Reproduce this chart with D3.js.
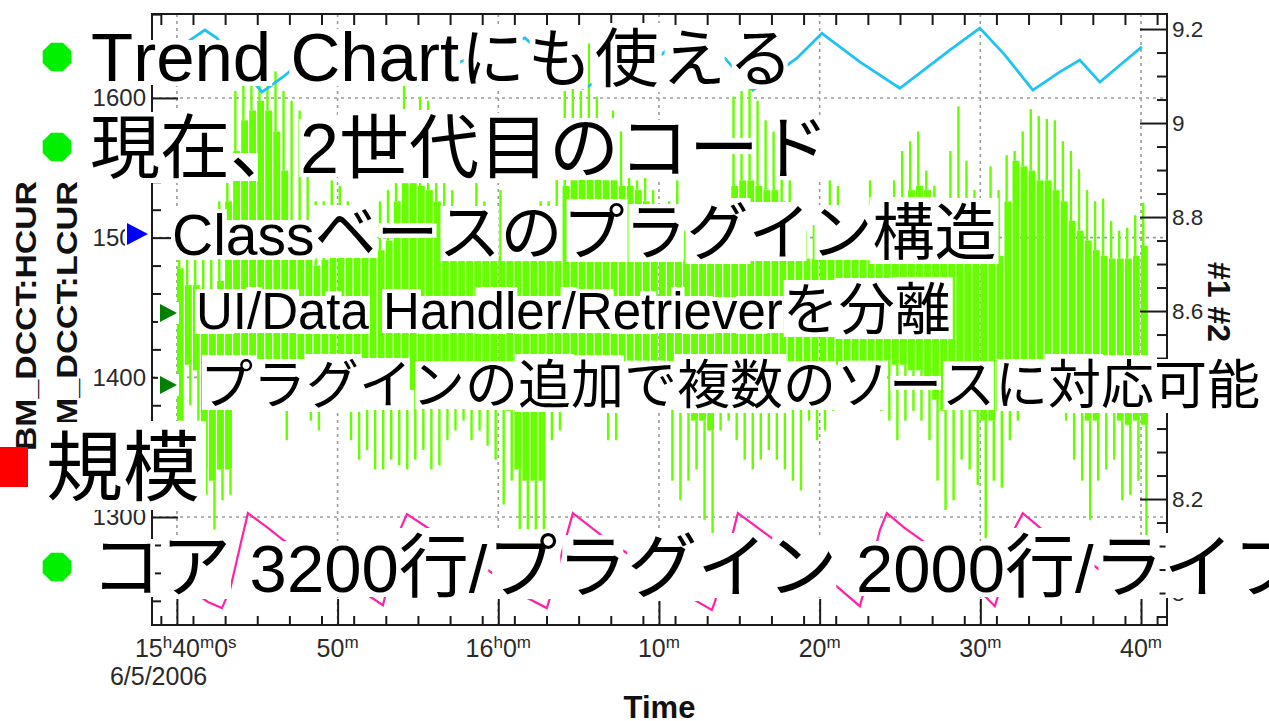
<!DOCTYPE html>
<html>
<head>
<meta charset="utf-8">
<script src="https://cdn.jsdelivr.net/npm/d3@7"></script>
<style>
  html, body { margin: 0; padding: 0; background: #fff; overflow: hidden; }
  svg { display: block; }
</style>
</head>
<body>
<svg id="slide" width="1269" height="721"></svg>
<script>
// ---------------- chart data ----------------
// BM_DCCT current (left axis): per 30 s sample, spike max, dense band top/bottom, spike min
const dcctMax = [1485,1485,1487,1491,1498,1526,1576,1605,1609,1619,
  1626,1639,1619,1605,1598,1591,1548,1526,1526,1541,
  1537,1526,1519,1505,1512,1526,1534,1584,1609,1584,
  1601,1598,1591,1541,1534,1505,1501,1541,1526,1505,
  1534,1509,1498,1498,1501,1526,1526,1562,1605,1609,
  1605,1639,1601,1584,1591,1576,1555,1541,1544,1534,
  1512,1526,1541,1505,1498,1498,1501,1505,1526,1601,
  1605,1609,1598,1584,1576,1548,1541,1512,1505,1509,
  1498,1541,1537,1505,1501,1512,1541,1526,1505,1541,
  1562,1569,1576,1548,1537,1526,1562,1594,1555,1534,
  1526,1551,1534,1559,1562,1576,1592,1587,1585,1584,
  1569,1562,1549,1534,1526,1528,1512,1505,1507,1516,
  1525];
const dcctBandTop = [1478,1466,1466,1462,1462,1469,1526,1562,1584,1591,
  1598,1591,1576,1548,1491,1484,1484,1480,1484,1487,
  1487,1491,1491,1487,1491,1491,1498,1526,1539,1539,
  1537,1534,1526,1491,1487,1485,1484,1485,1487,1485,
  1487,1487,1485,1484,1485,1487,1487,1498,1537,1541,
  1562,1584,1548,1541,1541,1537,1537,1534,1526,1519,
  1487,1485,1487,1485,1484,1484,1485,1487,1491,1537,
  1541,1541,1537,1534,1534,1526,1491,1487,1485,1485,
  1485,1487,1485,1484,1484,1485,1487,1485,1485,1498,
  1526,1534,1537,1534,1526,1498,1491,1498,1491,1487,
  1485,1491,1487,1526,1555,1551,1548,1541,1541,1534,
  1526,1512,1505,1498,1491,1487,1485,1485,1485,1487,
  1494];
const dcctBandBottom = [1369,1409,1405,1334,1326,1334,1334,1398,1405,1409,
  1412,1412,1412,1412,1409,1412,1412,1409,1405,1412,
  1412,1405,1398,1398,1391,1384,1384,1384,1387,1391,
  1394,1398,1394,1398,1401,1405,1405,1401,1398,1398,
  1384,1376,1334,1326,1326,1326,1384,1398,1405,1409,
  1409,1412,1412,1405,1405,1409,1412,1412,1412,1412,
  1412,1398,1384,1376,1369,1369,1362,1384,1398,1398,
  1394,1398,1398,1398,1401,1398,1391,1398,1405,1405,
  1401,1405,1409,1412,1412,1412,1412,1412,1412,1409,
  1409,1405,1405,1398,1384,1376,1384,1398,1384,1376,
  1369,1369,1376,1398,1405,1409,1409,1412,1412,1412,
  1405,1391,1376,1369,1369,1376,1384,1369,1366,1369,
  1366];
const dcctMin = [1366,1380,1369,1316,1291,1312,1316,1384,1391,1391,
  1398,1398,1401,1355,1384,1391,1369,1362,1376,1384,
  1387,1355,1341,1348,1334,1334,1341,1337,1334,1341,
  1348,1334,1337,1355,1362,1369,1355,1362,1351,1341,
  1309,1326,1289,1287,1291,1289,1355,1362,1384,1387,
  1387,1391,1384,1355,1355,1384,1387,1387,1391,1387,
  1384,1326,1312,1326,1334,1298,1287,1362,1369,1355,
  1341,1334,1341,1348,1341,1334,1326,1319,1369,1355,
  1362,1376,1384,1384,1387,1387,1384,1376,1369,1355,
  1369,1376,1369,1355,1326,1305,1312,1341,1334,1323,
  1285,1326,1321,1355,1369,1384,1384,1387,1384,1380,
  1369,1341,1326,1298,1326,1334,1341,1312,1316,1326,
  1286];
const SAMPLE_SECONDS = 30;

// Trace #1 (right axis): minutes after 15:40 and value
const ch1Min = [0,0.62,1.74,2.49,3.11,4.23,5.29,6.60,8.28,10.14,12.63,14.93,17.61,20.91,21.66,
  23.52,25.26,27.57,29.87,31.92,34.10,35.84,38.58,40.14,42.50,44.99,48.10,49.97,51.52,53.27,
  54.95,56.19,57.44,58.68,60.05];
const ch1Val = [9.145,9.172,9.198,9.181,9.151,9.109,9.066,9.098,9.145,9.187,9.130,9.081,9.130,9.172,9.181,
  9.123,9.074,9.108,9.138,9.194,9.138,9.070,9.138,9.191,9.130,9.074,9.155,9.202,9.145,9.070,
  9.109,9.134,9.087,9.123,9.162];

// Trace #2 (right axis)
const ch2Min = [0,1.93,2.80,3.30,3.92,4.42,5.60,6.60,9.52,12.82,13.38,13.88,14.31,15.56,17.92,
  19.35,21.84,23.02,23.21,23.83,24.64,26.94,28.19,32.23,33.29,33.48,34.60,34.91,37.34,40.01,
  42.50,43.12,43.75,44.18,45.30,48.10,50.90,51.52,52.15,52.64,53.89,56.01,57.44,60.05];
const ch2Val = [8.028,7.981,7.968,8.006,8.098,8.170,8.140,8.113,8.049,7.974,8.049,8.134,8.168,8.140,8.085,
  8.049,7.989,7.968,7.989,8.070,8.170,8.109,8.081,7.985,7.964,7.981,8.128,8.170,8.109,8.045,
  7.972,8.049,8.134,8.170,8.138,8.070,7.972,8.038,8.138,8.170,8.134,8.085,8.049,7.991];

// Axis ticks and their labels
const LEFT_TICKS = [1300, 1400, 1500, 1600];
const LEFT_TICK_LABELS = ["1300", "1400", "1500", "1600"];
const RIGHT_TICKS = [8.0, 8.2, 8.4, 8.6, 8.8, 9.0, 9.2];
const RIGHT_TICK_LABELS = ["8", "8.2", "8.4", "8.6", "8.8", "9", "9.2"];
const TIME_TICK_MIN = [0, 10, 20, 30, 40, 50, 60];
const TIME_TICK_LABELS = ["15h40m0s", "50m", "16h0m", "10m", "20m", "30m", "40m"];
const DATE_LABEL = "6/5/2006";
const X_TITLE = "Time";
const LEFT_TITLES = ["BM_DCCT:HCUR", "BM_DCCT:LCUR"];
const RIGHT_TITLE = "#1 #2";

// Slide bullet text
const SLIDE_ROWS = [
  { text: "Trend Chartにも使える", x: 91, base: 81, latin: 69, cjk: 64, cjkAdv: 67 },
  { text: "現在、2世代目のコード", x: 90, base: 173, latin: 70, cjk: 70 },
  { text: "Classベースのプラグイン構造", x: 172, base: 255, latin: 57, cjk: 62 },
  { text: "UI/Data Handler/Retrieverを分離", x: 196, base: 329, latin: 51, cjk: 56 },
  { text: "プラグインの追加で複数のソースに対応可能", x: 200, base: 404, latin: 53, cjk: 53 },
  { text: "規模", x: 46, base: 495, latin: 77, cjk: 77, pad: 8 },
  { text: "コア 3200行/プラグイン 2000行/ライブラリ", x: 91, base: 592, latin: 67, cjk: 70 }
];
const BULLETS = [
  { shape: "octagon", cx: 57, cy: 57, r: 15.5, color: "#00f000" },
  { shape: "octagon", cx: 57, cy: 147, r: 15.5, color: "#00f000" },
  { shape: "triangle", x: 127, y: 223, w: 21, h: 22, color: "#0000ff" },
  { shape: "triangle", x: 160, y: 304, w: 17, h: 18, color: "#008000" },
  { shape: "triangle", x: 160, y: 376, w: 17, h: 18, color: "#008000" },
  { shape: "square", x: -12, y: 447, w: 40, h: 40, color: "#ff0000" },
  { shape: "octagon", cx: 57, cy: 567, r: 15.5, color: "#00f000" }
];

// ---------------- layout & style ----------------
const PLOT = { left: 152, right: 1167, top: 14, bottom: 625 };
const GREEN = "#66ff00", CYAN = "#1ec3f3", MAGENTA = "#ff22a6";
const AXIS_FAMILY = '"Liberation Sans", Arial, Helvetica, sans-serif';
const LATIN_FAMILY = '"Liberation Sans", Arial, sans-serif';
const CJK_FAMILY = '"Noto Sans CJK JP", "Noto Sans CJK SC", sans-serif';

const svg = d3.select("#slide");
svg.append("rect").attr("width", 1269).attr("height", 721).attr("fill", "#fff");

const t0 = new Date(2006, 5, 5, 15, 40, 0);
const atMin = m => new Date(+t0 + m * 60000);
const x = d3.scaleTime()
  .domain([new Date(2006, 5, 5, 15, 38, 27), new Date(2006, 5, 5, 16, 41, 37)])
  .range([PLOT.left, PLOT.right]);
const yL = d3.scaleLinear().domain([1222.7, 1660.1]).range([PLOT.bottom, PLOT.top]);
const yR = d3.scaleLinear().domain([7.932, 9.232]).range([PLOT.bottom, PLOT.top]);

svg.append("clipPath").attr("id", "plotClip").append("rect")
  .attr("x", PLOT.left).attr("y", PLOT.top)
  .attr("width", PLOT.right - PLOT.left).attr("height", PLOT.bottom - PLOT.top);

// dashed grid at major ticks
const grid = svg.append("g").attr("stroke", "#9c9c9c").attr("stroke-width", 1.6)
  .attr("stroke-dasharray", "3,4");
grid.selectAll("line.v").data(TIME_TICK_MIN).join("line").attr("class", "v")
  .attr("x1", d => x(atMin(d))).attr("x2", d => x(atMin(d)))
  .attr("y1", PLOT.top).attr("y2", PLOT.bottom);
grid.selectAll("line.h").data(LEFT_TICKS).join("line").attr("class", "h")
  .attr("x1", PLOT.left).attr("x2", PLOT.right)
  .attr("y1", d => yL(d)).attr("y2", d => yL(d));

// data
const plot = svg.append("g").attr("clip-path", "url(#plotClip)");
const dcct = dcctMax.map((mx, i) => ({
  a: new Date(+t0 + i * SAMPLE_SECONDS * 1000),
  b: new Date(+t0 + (i + 1) * SAMPLE_SECONDS * 1000),
  mx, top: dcctBandTop[i], bot: dcctBandBottom[i], mn: dcctMin[i]
}));
const gG = plot.append("g").attr("fill", GREEN);
gG.selectAll("rect.band").data(dcct).join("rect").attr("class", "band")
  .attr("x", d => x(d.a)).attr("width", d => x(d.b) - x(d.a) - 1.2)
  .attr("y", d => yL(d.top)).attr("height", d => yL(d.bot) - yL(d.top));
gG.selectAll("rect.up").data(dcct).join("rect").attr("class", "up")
  .attr("x", d => x(d.a) + 1).attr("width", 2.4)
  .attr("y", d => yL(d.mx)).attr("height", d => Math.max(0, yL(d.top) - yL(d.mx)));
gG.selectAll("rect.dn").data(dcct).join("rect").attr("class", "dn")
  .attr("x", d => x(d.a) + 4.2).attr("width", 2.4)
  .attr("y", d => yL(d.bot)).attr("height", d => Math.max(0, yL(d.mn) - yL(d.bot)));

const lineR = d3.line().x(d => x(atMin(d[0]))).y(d => yR(d[1]));
plot.append("path").attr("d", lineR(d3.zip(ch2Min, ch2Val)))
  .attr("fill", "none").attr("stroke", MAGENTA).attr("stroke-width", 2.2);
plot.append("path").attr("d", lineR(d3.zip(ch1Min, ch1Val)))
  .attr("fill", "none").attr("stroke", CYAN).attr("stroke-width", 2.8);

// frame
svg.append("rect").attr("x", PLOT.left).attr("y", PLOT.top)
  .attr("width", PLOT.right - PLOT.left).attr("height", PLOT.bottom - PLOT.top)
  .attr("fill", "none").attr("stroke", "#1a1a1a").attr("stroke-width", 2);

function tidy(g) {
  g.select(".domain").remove();
  g.selectAll(".tick line").attr("stroke", "#1a1a1a").attr("stroke-width", 2);
  g.attr("font-family", AXIS_FAMILY);
  g.selectAll(".tick text").attr("fill", "#2a2a2a");
}

// left axis
const leftMinor = d3.range(1240, 1661, 20).filter(v => !LEFT_TICKS.includes(v));
svg.append("g").attr("transform", `translate(${PLOT.left},0)`)
  .call(d3.axisLeft(yL).tickValues(leftMinor).tickSize(-9).tickFormat("")).call(tidy);
svg.append("g").attr("transform", `translate(${PLOT.left},0)`)
  .call(d3.axisLeft(yL).tickValues(LEFT_TICKS).tickSize(-26).tickPadding(6)
    .tickFormat((d, i) => LEFT_TICK_LABELS[i]))
  .call(tidy).attr("font-size", 24);

// right axis
const rightMinor = d3.range(7.95, 9.23, 0.05).filter(v => !RIGHT_TICKS.some(t => Math.abs(t - v) < 1e-6));
svg.append("g").attr("transform", `translate(${PLOT.right},0)`)
  .call(d3.axisRight(yR).tickValues(rightMinor).tickSize(-10).tickFormat("")).call(tidy);
svg.append("g").attr("transform", `translate(${PLOT.right},0)`)
  .call(d3.axisRight(yR).tickValues(RIGHT_TICKS).tickSize(-27).tickPadding(5)
    .tickFormat((d, i) => RIGHT_TICK_LABELS[i]))
  .call(tidy).attr("font-size", 22.5);

// bottom and top time axes
const timeMinor = d3.range(-1, 62, 2).map(atMin);
const timeMajor = TIME_TICK_MIN.map(atMin);
svg.append("g").attr("transform", `translate(0,${PLOT.bottom})`)
  .call(d3.axisBottom(x).tickValues(timeMinor.filter(t => (t - t0) % 600000 !== 0)).tickSize(-9).tickFormat(""))
  .call(tidy);
svg.append("g").attr("transform", `translate(0,${PLOT.bottom})`)
  .call(d3.axisBottom(x).tickValues(timeMajor).tickSize(-26).tickFormat(""))
  .call(tidy);
svg.append("g").attr("transform", `translate(0,${PLOT.top})`)
  .call(d3.axisTop(x).tickValues(d3.range(-1, 62, 2).map(atMin)).tickSize(-11).tickFormat(""))
  .call(tidy);

// time labels with superscript units
TIME_TICK_MIN.forEach((m, i) => {
  const t = svg.append("text").attr("y", 657)
    .attr("font-family", AXIS_FAMILY).attr("font-size", 25).attr("fill", "#2a2a2a");
  if (i === 0) t.attr("x", x(atMin(m)) - 42).attr("text-anchor", "start");
  else t.attr("x", x(atMin(m))).attr("text-anchor", "middle");
  let raised = false;
  TIME_TICK_LABELS[i].match(/\d+|[a-z]/g).forEach(p => {
    const unit = /[a-z]/.test(p);
    const ts = t.append("tspan").text(p);
    if (unit) {
      ts.attr("font-size", 17);
      if (!raised) { ts.attr("dy", -9); raised = true; }
    } else if (raised) { ts.attr("dy", 9); raised = false; }
  });
});
svg.append("text").attr("x", x(atMin(0)) - 67).attr("y", 685)
  .attr("font-family", AXIS_FAMILY).attr("font-size", 25).attr("fill", "#2a2a2a")
  .text(DATE_LABEL);
svg.append("text").attr("x", (PLOT.left + PLOT.right) / 2).attr("y", 718)
  .attr("text-anchor", "middle").attr("font-family", AXIS_FAMILY)
  .attr("font-weight", "bold").attr("font-size", 31).attr("fill", "#111").text(X_TITLE);

// axis titles
[36, 77].forEach((bx, i) => {
  svg.append("text").attr("transform", `translate(${bx},316) rotate(-90)`)
    .attr("text-anchor", "middle").attr("font-family", AXIS_FAMILY)
    .attr("font-weight", "bold").attr("font-size", 29).attr("fill", "#111")
    .attr("textLength", 270).attr("lengthAdjust", "spacingAndGlyphs")
    .text(LEFT_TITLES[i]);
});
svg.append("text").attr("transform", "translate(1208,302) rotate(90)")
  .attr("text-anchor", "middle").attr("font-family", AXIS_FAMILY)
  .attr("font-weight", "bold").attr("font-size", 32).attr("fill", "#111")
  .text(RIGHT_TITLE);

// ---------------- slide text over the chart ----------------
// each glyph sits on its own white patch cut to its ink box
const ctx = document.createElement("canvas").getContext("2d");
const slide = svg.append("g");
const boxes = slide.append("g").attr("fill", "#fff");
const bulletG = slide.append("g");
const glyphG = slide.append("g").attr("fill", "#000");
const isLatin = ch => ch.codePointAt(0) < 0x2000;

SLIDE_ROWS.forEach(row => {
  const pad = row.pad || 4;
  let cx = row.x;
  for (const ch of row.text) {
    const latin = isLatin(ch);
    const size = latin ? row.latin : row.cjk;
    const fam = latin ? LATIN_FAMILY : CJK_FAMILY;
    ctx.font = `${size}px ${fam}`;
    const m = ctx.measureText(ch);
    const adv = (!latin && row.cjkAdv) ? row.cjkAdv : m.width;
    const gx = cx + (adv - m.width) / 2;
    if (ch !== " ") {
      let x0, x1;
      if (latin) { x0 = gx - 1; x1 = gx + m.width + 1; }
      else { x0 = gx - m.actualBoundingBoxLeft - pad; x1 = gx + m.actualBoundingBoxRight + pad; }
      const y0 = row.base - m.actualBoundingBoxAscent - pad;
      const y1 = row.base + m.actualBoundingBoxDescent + pad;
      boxes.append("rect").attr("x", x0).attr("y", y0).attr("width", x1 - x0).attr("height", y1 - y0);
      glyphG.append("text").attr("x", gx).attr("y", row.base)
        .attr("font-family", fam).attr("font-size", size).text(ch);
    }
    cx += adv;
  }
});

BULLETS.forEach(b => {
  if (b.shape === "octagon") {
    const pts = d3.range(8).map(k => {
      const a = (k * 45 + 22.5) * Math.PI / 180;
      return [b.cx + b.r * Math.cos(a), b.cy + b.r * Math.sin(a)];
    });
    boxes.append("rect").attr("x", b.cx - b.r - 3).attr("y", b.cy - b.r - 3)
      .attr("width", 2 * b.r + 6).attr("height", 2 * b.r + 6);
    bulletG.append("polygon").attr("points", pts.map(p => p.join(",")).join(" ")).attr("fill", b.color);
  } else if (b.shape === "triangle") {
    boxes.append("rect").attr("x", b.x - 2).attr("y", b.y - 2).attr("width", b.w + 4).attr("height", b.h + 4);
    bulletG.append("polygon")
      .attr("points", `${b.x},${b.y} ${b.x + b.w},${b.y + b.h / 2} ${b.x},${b.y + b.h}`)
      .attr("fill", b.color);
  } else {
    bulletG.append("rect").attr("x", b.x).attr("y", b.y).attr("width", b.w).attr("height", b.h)
      .attr("fill", b.color);
  }
});
</script>
</body>
</html>
